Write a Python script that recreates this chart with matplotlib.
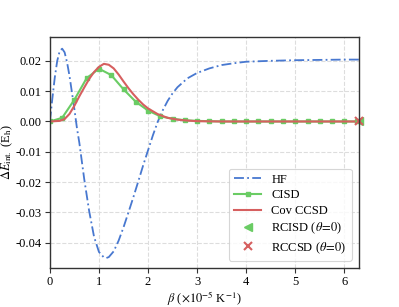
import matplotlib
matplotlib.use("Agg")
import matplotlib.pyplot as plt
from matplotlib.ticker import FormatStrFormatter

plt.rcParams["font.family"] = ["Liberation Serif", "DejaVu Serif"]
plt.rcParams["mathtext.fontset"] = "stix"
plt.rcParams["axes.unicode_minus"] = False
plt.rcParams["font.size"] = 9

BLUE = "#4878d0"
GREEN = "#6acc64"
RED = "#d65f5f"

# HF
hf_beta = [0.0, 0.05, 0.1, 0.15, 0.2, 0.25, 0.3, 0.35, 0.4, 0.45, 0.5, 0.55,
           0.6, 0.7, 0.8, 0.9, 1.0, 1.1, 1.15, 1.2, 1.3, 1.4, 1.5, 1.6, 1.7,
           1.8, 1.9, 2.0, 2.1, 2.2, 2.3, 2.4, 2.5, 2.6, 2.8, 3.0, 3.25, 3.5,
           3.75, 4.0, 4.5, 5.0, 5.5, 6.0, 6.3]
hf_de = [0.0, 0.0075, 0.0145, 0.0200, 0.0232, 0.0240, 0.0228, 0.0195, 0.0150,
         0.0095, 0.0040, -0.0020, -0.0070, -0.0190, -0.0295, -0.0380, -0.0430,
         -0.0448, -0.0450, -0.0447, -0.0428, -0.0393, -0.0349, -0.0300,
         -0.0250, -0.0198, -0.0145, -0.0095, -0.0045, 0.0000, 0.0037, 0.0068,
         0.0093, 0.0113, 0.0142, 0.0160, 0.0175, 0.0186, 0.0192, 0.0197,
         0.0200, 0.0202, 0.0203, 0.0204, 0.0204]

# CISD, one point every 0.25
cisd_beta = [0.0, 0.25, 0.5, 0.75, 1.0, 1.25, 1.5, 1.75, 2.0, 2.25, 2.5, 2.75,
             3.0, 3.25, 3.5, 3.75, 4.0, 4.25, 4.5, 4.75, 5.0, 5.25, 5.5, 5.75,
             6.0, 6.25]
cisd_de = [0.0, 0.0012, 0.0072, 0.0143, 0.0174, 0.0153, 0.0106, 0.0065,
           0.0036, 0.0017, 0.0009, 0.0004, 0.0002, 0.0001, 0.0, 0.0, 0.0, 0.0,
           0.0, 0.0, 0.0, 0.0, 0.0, 0.0, 0.0, 0.0]

# covariant CCSD
cc_beta = [0.0, 0.1, 0.2, 0.3, 0.4, 0.5, 0.6, 0.7, 0.8, 0.9, 1.0, 1.1, 1.2,
           1.3, 1.4, 1.5, 1.6, 1.7, 1.8, 1.9, 2.0, 2.2, 2.4, 2.6, 2.8, 3.0,
           3.5, 4.0, 5.0, 6.3]
cc_de = [0.0, 0.0001, 0.0002, 0.0008, 0.0025, 0.0052, 0.0083, 0.0112, 0.0140,
         0.0163, 0.0180, 0.0190, 0.0187, 0.0175, 0.0155, 0.0132, 0.0110,
         0.0090, 0.0072, 0.0056, 0.0043, 0.0024, 0.0012, 0.0006, 0.0003,
         0.0001, 0.0, 0.0, 0.0, 0.0]

# restricted reference points at theta = 0
ref_beta = [6.3]
rcisd_de = [0.0]
rccsd_de = [0.0]

fig = plt.figure(figsize=(3.99, 3.07), dpi=100)
ax = fig.add_axes([0.125, 0.127, 0.775, 0.752])

ax.plot(hf_beta, hf_de, color=BLUE, lw=1.3, ls=(0, (5.5, 1.8, 1, 1.8)),
        label="HF")
ax.plot(cisd_beta, cisd_de, color=GREEN, lw=1.5, marker="s", ms=3.5,
        label="CISD")
ax.plot(cc_beta, cc_de, color=RED, lw=1.5, label="Cov CCSD")
ax.plot(ref_beta, rcisd_de, ls="none", marker="<", ms=6, color=GREEN,
        clip_on=False, label=r"RCISD ($\theta\!=\!0$)")
ax.plot(ref_beta, rccsd_de, ls="none", marker="x", ms=5.5, mew=1.5,
        color=RED, clip_on=False, label=r"RCCSD ($\theta\!=\!0$)")

ax.set_xlim(0, 6.3)
ax.set_ylim(-0.0483, 0.0278)
ax.set_xticks(range(7))
ax.set_yticks([-0.04, -0.03, -0.02, -0.01, 0.0, 0.01, 0.02])
ax.yaxis.set_major_formatter(FormatStrFormatter("%.2f"))

ax.grid(True, color="#dddddd", ls="--", lw=0.8)
ax.set_axisbelow(True)
for side in ["left", "right", "top", "bottom"]:
    ax.spines[side].set_color("#333333")
    ax.spines[side].set_linewidth(1.0)
ax.tick_params(direction="out", length=3.5, width=0.8, pad=2.5,
               colors="#333333", labelcolor="black", labelsize=9)

ax.set_xlabel(r"$\beta$ ($\times 10^{-5}$ K$^{-1}$)", fontsize=9)
ax.set_ylabel(r"$\Delta E_{\mathrm{int.}}$ (E$_{\mathrm{h}}$)", fontsize=9)
ax.xaxis.set_label_coords(0.5, -0.09)
ax.yaxis.set_label_coords(-0.112, 0.5)

leg = ax.legend(loc="lower right", fontsize=9, frameon=True, fancybox=True,
                borderaxespad=0.6, handlelength=2.2, labelspacing=0.3)
leg.get_frame().set_edgecolor("#cccccc")
leg.get_frame().set_linewidth(0.8)

fig.savefig("out.png", dpi=100)
